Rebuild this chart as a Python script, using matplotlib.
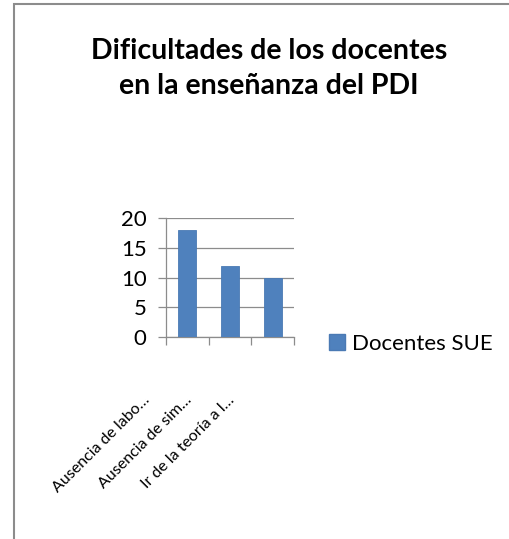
import numpy as np
import matplotlib.pyplot as plt
from matplotlib.patches import Rectangle, Patch
from matplotlib.transforms import ScaledTranslation

categories = ["Ausencia de labo…", "Ausencia de sim…", "Ir de la teoría a l…"]
docentes_sue = [18, 12, 10]
yticks = [0, 5, 10, 15, 20]

plt.rcParams['font.family'] = ['Lato', 'DejaVu Sans']

W, H = 510, 539
fig = plt.figure(figsize=(W / 100, H / 100), dpi=100)

# chart frame (open to the right and bottom like the crop)
fig.add_artist(Rectangle((14 / W, -0.1), 1.2, 1 - 4 / H + 0.1, transform=fig.transFigure,
                         fill=False, edgecolor='#8c8c8c', linewidth=1.5))

fig.text(269 / W, 1 - 51 / H, "Dificultades de los docentes", ha='center', va='center',
         fontsize=20.5, fontweight='bold')
fig.text(269 / W, 1 - 86 / H, "en la enseñanza del PDI", ha='center', va='center',
         fontsize=20.5, fontweight='bold')

ax = fig.add_axes([166 / W, 1 - 337 / H, 128 / W, 119 / H])
x = np.arange(len(categories))
bars = ax.bar(x, docentes_sue, width=0.42, color='#4F81BD', edgecolor='#4a7ab4',
              linewidth=0.6, zorder=3, label='Docentes SUE')

ax.set_xlim(-0.5, len(categories) - 0.5)
ax.set_ylim(0, 20)
ax.set_yticks(yticks)
ax.yaxis.grid(True, color='#8c8c8c', linewidth=0.9, zorder=0)
for s in ['top', 'right']:
    ax.spines[s].set_visible(False)
for s in ['left', 'bottom']:
    ax.spines[s].set_color('#8c8c8c')
    ax.spines[s].set_linewidth(0.9)
ax.tick_params(axis='y', length=6, width=0.9, color='#8c8c8c', labelsize=16, pad=8)

ax.set_xticks(x)
ax.set_xticks(np.arange(len(categories) + 1) - 0.5, minor=True)
ax.tick_params(axis='x', which='major', length=0, labelsize=11.5)
ax.tick_params(axis='x', which='minor', length=6, width=0.9, color='#8c8c8c')
ax.set_xticklabels(categories, rotation=45, ha='right', va='center', rotation_mode='anchor')
off = ScaledTranslation(-40 / 100, -56 / 100, fig.dpi_scale_trans)
for lbl in ax.get_xticklabels():
    lbl.set_transform(lbl.get_transform() + off)

fig.legend(handles=[Patch(facecolor='#4F81BD', edgecolor='#4a7ab4', label='Docentes SUE')],
           loc='center left', bbox_to_anchor=(329 / W, 1 - 344 / H), frameon=False,
           fontsize=16, handlelength=0.7, handleheight=0.7, handletextpad=0.35,
           borderaxespad=0, borderpad=0)

fig.savefig('out.png', dpi=100)
